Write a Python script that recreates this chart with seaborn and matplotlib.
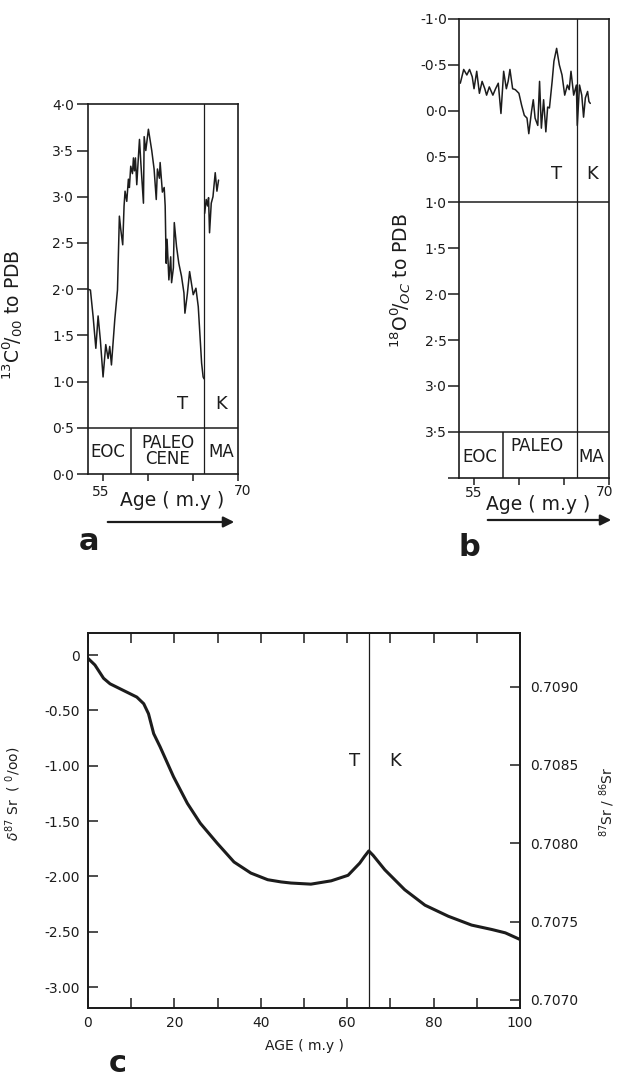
import numpy as np
import matplotlib
matplotlib.use("Agg")
import matplotlib.pyplot as plt
import seaborn as sns

# ---------------- data ----------------
# panel a : delta 13C (Paleocene/Eocene part, left of the T/K boundary)
c13_age = [53.33, 53.6, 53.9, 54.2, 54.45, 54.7, 55.0, 55.3, 55.56, 55.74, 55.93, 56.3, 56.6,
           56.81, 56.96, 57.18, 57.33, 57.44, 57.63, 57.81, 57.92, 58.07, 58.26, 58.37, 58.48,
           58.59, 58.74, 58.9, 59.04, 59.2, 59.48, 59.56, 59.74, 60.03, 60.4, 60.66, 60.9, 61.03,
           61.25, 61.33, 61.58, 61.78, 61.89, 62.0, 62.1, 62.3, 62.5, 62.6, 62.8, 62.9, 63.15,
           63.4, 63.7, 63.97, 64.08, 64.35, 64.6, 65.0, 65.3, 65.56, 65.93, 66.1, 66.2]
c13_val = [2.0, 1.99, 1.70, 1.36, 1.71, 1.45, 1.05, 1.40, 1.25, 1.38, 1.18, 1.67, 1.99,
           2.79, 2.65, 2.48, 2.90, 3.06, 2.95, 3.19, 3.10, 3.33, 3.25, 3.42, 3.28,
           3.42, 3.13, 3.40, 3.62, 3.35, 2.93, 3.65, 3.50, 3.73, 3.50, 3.30, 2.97, 3.30,
           3.20, 3.37, 3.05, 3.10, 2.90, 2.28, 2.54, 2.10, 2.35, 2.07, 2.23, 2.72, 2.46,
           2.28, 2.14, 1.96, 1.74, 1.95, 2.19, 1.94, 2.01, 1.81, 1.20, 1.05, 1.03]
# panel a : Maastrichtian part (right of the boundary)
c13_ma_age = [66.27, 66.44, 66.59, 66.7, 66.81, 67.0, 67.19, 67.44, 67.63, 67.81]
c13_ma_val = [2.82, 2.97, 2.90, 2.99, 2.61, 2.93, 3.00, 3.26, 3.06, 3.18]

# panel b : delta 18O
o18_age = [53.47, 53.85, 54.2, 54.5, 54.8, 55.0, 55.3, 55.6, 55.9, 56.2, 56.4, 56.7, 57.1, 57.4,
           57.7, 58.0, 58.3, 58.6, 58.8, 59.0, 59.3, 59.6, 60.0, 60.3, 60.6, 60.9, 61.1, 61.4,
           61.6, 61.8, 62.1, 62.3, 62.5, 62.75, 63.0, 63.2, 63.4, 63.7, 63.9, 64.2, 64.5, 64.8,
           65.1, 65.4, 65.6, 65.8, 66.1, 66.4, 66.5, 66.75, 67.0, 67.2, 67.4, 67.65, 67.8, 67.95]
o18_val = [-0.30, -0.45, -0.39, -0.45, -0.37, -0.24, -0.43, -0.19, -0.32, -0.24, -0.17, -0.26,
           -0.17, -0.24, -0.30, 0.03, -0.43, -0.24, -0.32, -0.45, -0.24, -0.23, -0.19, -0.06,
           0.05, 0.08, 0.25, 0.01, -0.12, 0.08, 0.16, -0.32, 0.19, -0.12, 0.23, -0.04, -0.03,
           -0.32, -0.54, -0.68, -0.50, -0.39, -0.17, -0.28, -0.23, -0.43, -0.17, -0.28, 0.16,
           -0.28, -0.17, 0.07, -0.14, -0.21, -0.10, -0.08]

# panel c : delta 87Sr vs age
sr_age = [0, 1.6, 3.6, 5.1, 8.2, 11.3, 12.9, 14.0, 15.2, 16.7, 19.8, 23.0, 26.0, 29.9, 33.8,
          37.7, 41.6, 44.7, 47.0, 51.6, 56.3, 60.2, 62.9, 64.0, 65.0, 66.0, 68.7, 73.3, 78.0,
          83.4, 88.8, 93.5, 96.6, 100]
sr_val = [-0.03, -0.09, -0.21, -0.26, -0.32, -0.38, -0.44, -0.53, -0.71, -0.83, -1.10, -1.34,
          -1.52, -1.70, -1.87, -1.97, -2.03, -2.05, -2.06, -2.07, -2.04, -1.99, -1.88, -1.82,
          -1.77, -1.81, -1.94, -2.12, -2.26, -2.36, -2.44, -2.48, -2.51, -2.57]

# boundaries
tk_a, eoc_a = 66.25, 58.1
tk_b, eoc_b = 66.44, 58.19
tk_c = 65.0

# tick labels
a_yticks = [0.0, 0.5, 1.0, 1.5, 2.0, 2.5, 3.0, 3.5, 4.0]
a_yticklabels = ['0·0', '0·5', '1·0', '1·5', '2·0', '2·5', '3·0', '3·5', '4·0']
b_yticks = [-1.0, -0.5, 0.0, 0.5, 1.0, 1.5, 2.0, 2.5, 3.0, 3.5, 4.0]
b_yticklabels = ['-1·0', '-0·5', '0·0', '0·5', '1·0', '1·5', '2·0', '2·5', '3·0', '3·5', '']
ab_xticks = [55, 60, 65, 70]
c_yticks = [0, -0.5, -1.0, -1.5, -2.0, -2.5, -3.0]
c_yticklabels = ['0', '-0.50', '-1.00', '-1.50', '-2.00', '-2.50', '-3.00']
c_xticks = [0, 20, 40, 60, 80, 100]
c_xminor = [10, 30, 50, 70, 90]
c_rticks = [0.7070, 0.7075, 0.7080, 0.7085, 0.7090]
c_rticklabels = ['0.7070', '0.7075', '0.7080', '0.7085', '0.7090']

# ---------------- style ----------------
sns.set_style("ticks")
plt.rcParams['font.family'] = ['DejaVu Sans']
plt.rcParams['mathtext.fontset'] = 'dejavusans'
INK = '#1c1c1c'

W, H = 620, 1077
fig = plt.figure(figsize=(W / 100, H / 100), dpi=100)


def px_axes(l, t, r, b):
    return fig.add_axes([l / W, 1 - b / H, (r - l) / W, (b - t) / H])


def ftext(x, y, s, **kw):
    kw.setdefault('ha', 'center')
    kw.setdefault('va', 'center')
    kw.setdefault('color', INK)
    fig.text(x / W, 1 - y / H, s, **kw)


def farrow(x0, x1, y):
    fig.patches.append(matplotlib.patches.FancyArrowPatch(
        (x0 / W, 1 - y / H), (x1 / W, 1 - y / H), transform=fig.transFigure,
        arrowstyle='-|>', mutation_scale=16, lw=1.6, color=INK))


def style_box(ax, lw=1.2):
    for s in ax.spines.values():
        s.set_visible(True)
        s.set_linewidth(lw)
        s.set_color(INK)


# ---------------- panel a ----------------
ax_a = px_axes(88, 104.3, 238.3, 474)
sns.lineplot(x=c13_age, y=c13_val, ax=ax_a, color=INK, lw=1.1, estimator=None, sort=False)
sns.lineplot(x=c13_ma_age, y=c13_ma_val, ax=ax_a, color=INK, lw=1.1, estimator=None, sort=False)
ax_a.set_xlim(53.33, 70)
ax_a.set_ylim(0, 4.0)
ax_a.axhline(0.5, color=INK, lw=1.1)
ax_a.axvline(tk_a, color=INK, lw=0.9)
ax_a.vlines(eoc_a, 0, 0.5, color=INK, lw=1.1)
ax_a.set_yticks(a_yticks)
ax_a.set_yticklabels(a_yticklabels)
ax_a.set_xticks(ab_xticks)
ax_a.set_xticklabels([])
ax_a.tick_params(axis='y', direction='out', length=8, width=1.1, labelsize=10, pad=2, colors=INK)
ax_a.tick_params(axis='x', direction='out', length=5, width=1.1, colors=INK)
style_box(ax_a)
ax_a.set_xlabel('')
ax_a.set_ylabel(r'$^{13}$C$^{0}\!/_{00}$ to PDB', fontsize=13.5, color=INK)
ax_a.yaxis.set_label_coords(-0.42, 0.43)
ax_a.text(55.55, 0.24, 'EOC', ha='center', va='center', fontsize=12, color=INK)
ax_a.text(62.2, 0.25, 'PALEO\nCENE', ha='center', va='center', fontsize=12,
          linespacing=0.9, color=INK)
ax_a.text(68.1, 0.24, 'MA', ha='center', va='center', fontsize=12, color=INK)
ax_a.text(63.8, 0.76, 'T', ha='center', va='center', fontsize=13, color=INK)
ax_a.text(68.1, 0.76, 'K', ha='center', va='center', fontsize=13, color=INK)
ftext(101, 492, '55', fontsize=10)
ftext(172, 500, 'Age ( m.y )', fontsize=13.5)
ftext(243, 491, '70', fontsize=10)
farrow(105, 237, 522)
ftext(89, 542, 'a', fontsize=22, fontweight='bold')

# ---------------- panel b ----------------
ax_b = px_axes(459.3, 19, 608.7, 477.7)
sns.lineplot(x=o18_age, y=o18_val, ax=ax_b, color=INK, lw=1.1, estimator=None, sort=False)
ax_b.set_xlim(53.36, 70)
ax_b.set_ylim(4.0, -1.0)
ax_b.axhline(1.0, color=INK, lw=1.1)
ax_b.axhline(3.5, color=INK, lw=1.1)
ax_b.axvline(tk_b, color=INK, lw=0.9)
ax_b.vlines(eoc_b, 3.5, 4.0, color=INK, lw=1.1)
ax_b.set_yticks(b_yticks)
ax_b.set_yticklabels(b_yticklabels)
ax_b.set_xticks(ab_xticks)
ax_b.set_xticklabels([])
ax_b.tick_params(axis='y', direction='out', length=8, width=1.1, labelsize=10, pad=1, colors=INK)
ax_b.tick_params(axis='x', direction='out', length=5, width=1.1, colors=INK)
style_box(ax_b)
ax_b.set_xlabel('')
ax_b.set_ylabel(r'$^{18}$O$^{0}\!/_{OC}$ to PDB', fontsize=13.5, color=INK)
ax_b.yaxis.set_label_coords(-0.31, 0.43)
ax_b.text(55.67, 3.77, 'EOC', ha='center', va='center', fontsize=12, color=INK)
ax_b.text(62.0, 3.65, 'PALEO', ha='center', va='center', fontsize=12, color=INK)
ax_b.text(68.1, 3.77, 'MA', ha='center', va='center', fontsize=12, color=INK)
ax_b.text(64.24, 0.69, 'T', ha='center', va='center', fontsize=13, color=INK)
ax_b.text(68.2, 0.69, 'K', ha='center', va='center', fontsize=13, color=INK)
ftext(474, 493, '55', fontsize=10)
ftext(538, 504, 'Age ( m.y )', fontsize=13.5)
ftext(605, 492, '70', fontsize=10)
farrow(485, 614, 520)
ftext(469, 547, 'b', fontsize=22, fontweight='bold')

# ---------------- panel c ----------------
ax_c = px_axes(88, 633, 520, 1008)
sns.lineplot(x=sr_age, y=sr_val, ax=ax_c, color=INK, lw=2.2, estimator=None, sort=False)
ax_c.set_xlim(0, 100)
ax_c.set_ylim(-3.189, 0.199)
ax_c.axvline(tk_c, color=INK, lw=0.9)
ax_c.set_yticks(c_yticks)
ax_c.set_yticklabels(c_yticklabels)
ax_c.set_xticks(c_xticks)
ax_c.set_xticklabels([str(v) for v in c_xticks])
ax_c.set_xticks(c_xminor, minor=True)
ax_c.tick_params(axis='both', which='both', direction='in', length=7, width=1.1,
                 top=True, colors=INK)
ax_c.tick_params(axis='both', which='major', labelsize=10, pad=6)
style_box(ax_c, 1.3)
ax_c.set_xlabel('AGE ( m.y )', fontsize=10, labelpad=6, color=INK)
ax_c.set_ylabel(r'$\delta^{87}$ Sr  ( $^{0}$/oo)', fontsize=10, color=INK)
ax_c.yaxis.set_label_coords(-0.15, 0.57)
ax_c.text(61.6, -0.96, 'T', ha='center', va='center', fontsize=13, color=INK)
ax_c.text(71.0, -0.96, 'K', ha='center', va='center', fontsize=13, color=INK)

ax_r = ax_c.twinx()
ax_r.set_ylim(0.706948, 0.709343)
ax_r.set_yticks(c_rticks)
ax_r.set_yticklabels(c_rticklabels)
ax_r.tick_params(axis='y', direction='in', length=7, width=1.1, labelsize=10, pad=7, colors=INK)
style_box(ax_r, 1.3)
ax_r.set_ylabel(r'$^{87}$Sr / $^{86}$Sr', fontsize=10, color=INK)
ax_r.yaxis.set_label_coords(1.18, 0.55)
ftext(118, 1063, 'c', fontsize=22, fontweight='bold')

fig.savefig('out.png', dpi=100)
